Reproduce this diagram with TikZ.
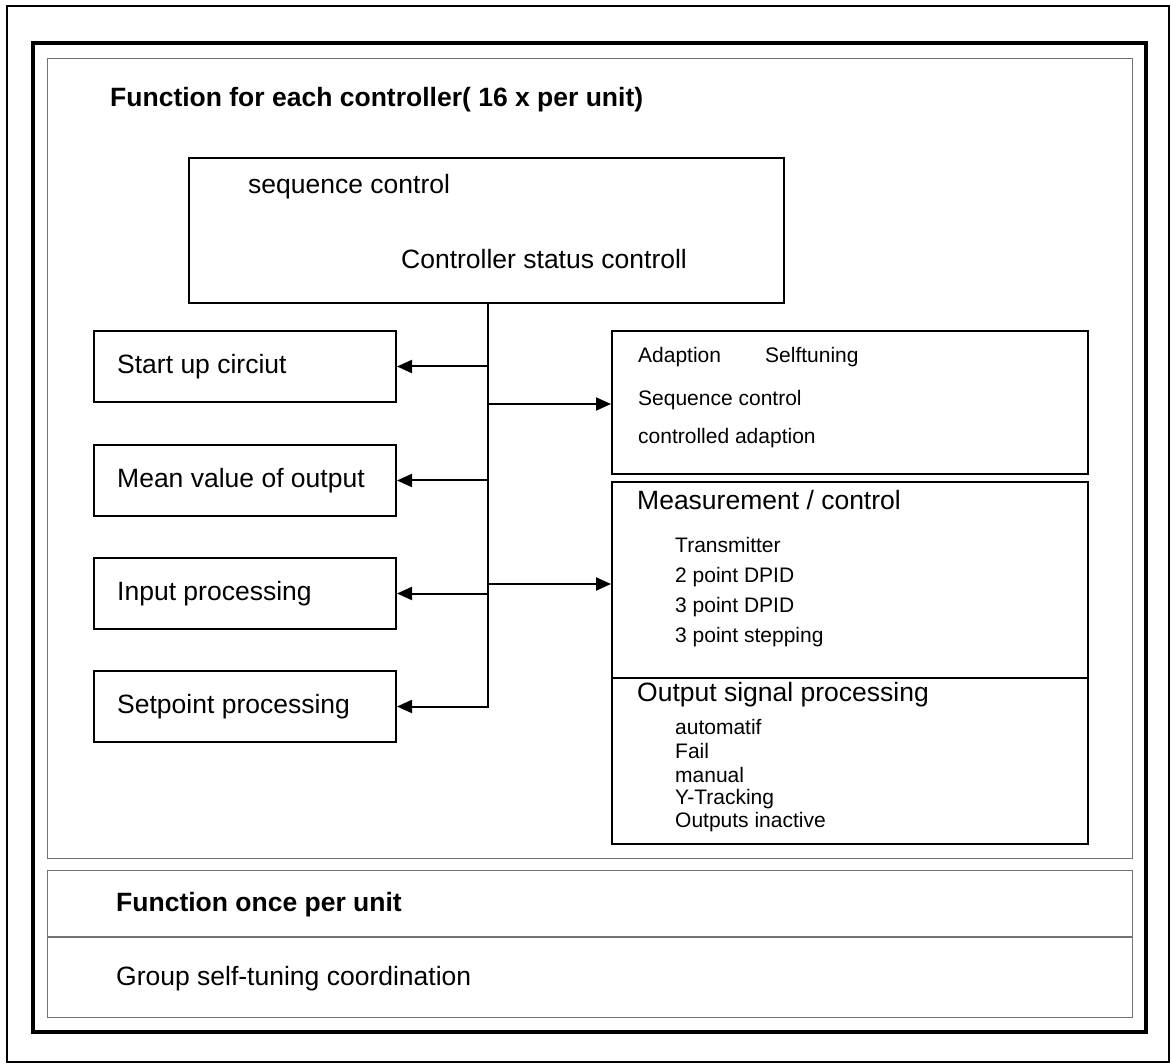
\documentclass[tikz,border=0pt]{standalone}
\usepackage{fontspec}
\setmainfont{Liberation Sans}
\usetikzlibrary{arrows.meta,positioning}
\newcommand{\bigtxt}{\fontsize{26.5}{30}\selectfont}
\newcommand{\smalltxt}{\fontsize{21}{24}\selectfont}
\tikzset{
  blockbox/.style={draw, line width=2pt, inner sep=0pt, anchor=north west},
  framebox/.style={draw=black!55, line width=1.3pt, inner sep=0pt, anchor=north west},
  lefttxt/.style={anchor=west, inner sep=0pt, font=\bigtxt},
  subtxt/.style={anchor=west, inner sep=0pt, font=\smalltxt},
  arr/.style={line width=2pt, -{Triangle[length=15pt,width=13pt]}}
}
\begin{document}
\begin{tikzpicture}[x=1pt, y=-1pt]
\useasboundingbox (0,0) rectangle (1171,1064);
\draw[line width=2pt]                                (7,6)    rectangle (1169,1062);
\draw[line width=3.5pt]                              (33,43)  rectangle (1146,1032);
\node[framebox, minimum width=1085pt, minimum height=800pt] (upper) at (47,58) {};
\node[framebox, minimum width=1085pt, minimum height=147pt] (lower) at (47,870) {};
\draw[draw=black!55, line width=1.3pt] (lower.west |- 0,937) -- (lower.east |- 0,937);
\node[lefttxt, font=\bigtxt\bfseries] (title) at (110,100) {Function for each controller( 16 x per unit)};
\node[lefttxt, font=\bigtxt\bfseries] (once) at (116,905) {Function once per unit};
\node[lefttxt] (group) at (116,979) {Group self-tuning coordination};
% controller status block
\node[blockbox, minimum width=595pt, minimum height=145pt] (topbox) at (188,157) {};
\node[lefttxt] (seq) at (248,187) {sequence control};
\node[lefttxt] (status) at (401,259) {Controller status controll};
% left column
\node[blockbox, minimum width=302pt, minimum height=71pt] (startbox) at (93,330) {};
\node[blockbox, minimum width=302pt, minimum height=71pt] (meanbox)  at (93,444) {};
\node[blockbox, minimum width=302pt, minimum height=71pt] (inbox)    at (93,557) {};
\node[blockbox, minimum width=302pt, minimum height=71pt] (setbox)   at (93,670) {};
\node[lefttxt, right=24pt of startbox.west] {Start up circiut};
\node[lefttxt, right=24pt of meanbox.west]  {Mean value of output};
\node[lefttxt, right=24pt of inbox.west]    {Input processing};
\node[lefttxt, right=24pt of setbox.west]   {Setpoint processing};
% right column
\node[blockbox, minimum width=476pt, minimum height=143pt] (adaptbox) at (611,330) {};
\node[blockbox, minimum width=476pt, minimum height=362pt] (measbox)  at (611,481) {};
\draw[line width=2pt] (measbox.west |- 0,678) -- (measbox.east |- 0,678);
\node[subtxt] at (638,357) {Adaption};
\node[subtxt] at (765,357) {Selftuning};
\node[subtxt] at (638,400) {Sequence control};
\node[subtxt] at (638,438) {controlled adaption};
\node[lefttxt] at (637,500) {Measurement / control};
\node[subtxt] at (675,545) {Transmitter};
\node[subtxt] at (675,577) {2 point DPID};
\node[subtxt] at (675,607) {3 point DPID};
\node[subtxt] at (675,637) {3 point stepping};
\node[lefttxt] at (637,695) {Output signal processing};
\node[subtxt] at (675,727) {automatif};
\node[subtxt] at (675,751) {Fail};
\node[subtxt] at (675,775) {manual};
\node[subtxt] at (675,799) {Y-Tracking};
\node[subtxt] at (675,822) {Outputs inactive};
% connectors
\coordinate (trunk) at (488,302);
\coordinate (trunkend) at (488,708);
\coordinate (adaptin) at (611,404);
\coordinate (measin) at (611,584);
\draw[line width=2pt] (trunk) -- (trunkend);
\draw[arr] (trunk |- startbox.east) -- (startbox.east);
\draw[arr] (trunk |- meanbox.east)  -- (meanbox.east);
\draw[arr] (trunk |- inbox.east)    -- (inbox.east);
\draw[arr] (trunk |- setbox.east)   -- (setbox.east);
\draw[arr] (trunk |- adaptin)       -- (adaptin);
\draw[arr] (trunk |- measin)        -- (measin);
\end{tikzpicture}
\end{document}
